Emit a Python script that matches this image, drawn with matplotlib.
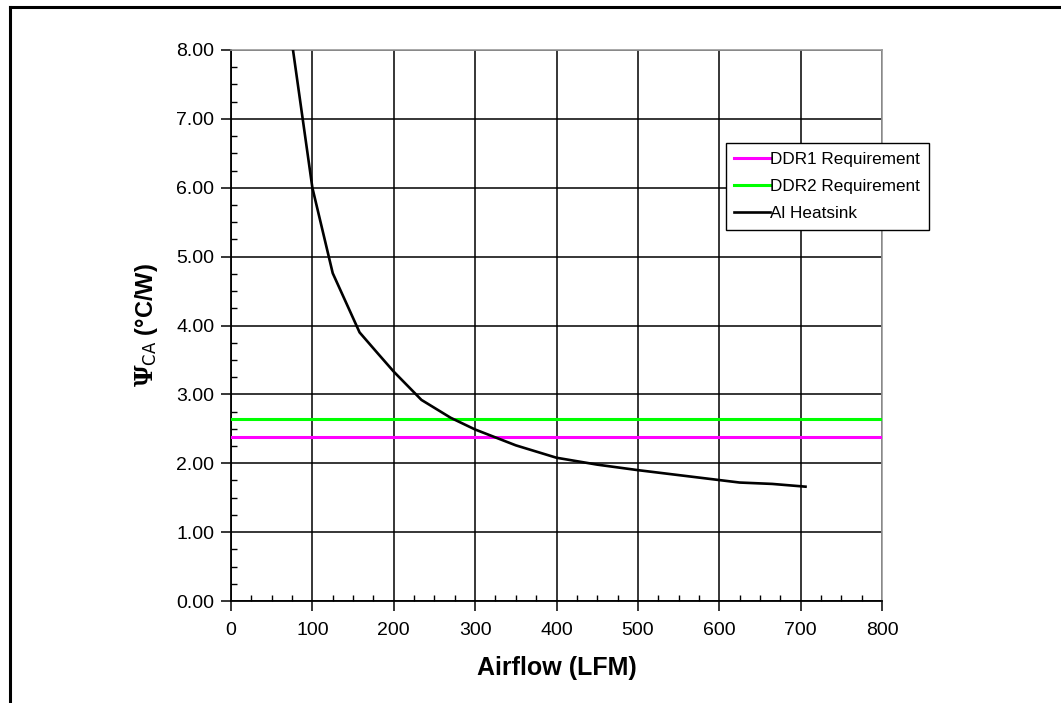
import matplotlib
matplotlib.use('Agg')
import matplotlib.pyplot as plt
from matplotlib.lines import Line2D
from matplotlib.ticker import MultipleLocator, FormatStrFormatter

plt.rcParams['font.family'] = ['Liberation Sans', 'DejaVu Sans']
plt.rcParams['mathtext.fontset'] = 'dejavuserif'

# data
airflow = [75, 100, 125, 158, 180, 200, 234, 270, 300, 350, 400, 450, 500, 625, 665, 706]
psi_ca = [8.1, 6.0, 4.76, 3.9, 3.6, 3.33, 2.92, 2.66, 2.49, 2.26, 2.08, 1.98, 1.90, 1.72, 1.70, 1.66]
ddr1_req = 2.385
ddr2_req = 2.64
x_range = [0, 800]

fig = plt.figure(figsize=(10.61, 7.03), dpi=100)
ax = fig.add_axes([231/1061, 1-601/703, 651/1061, 551/703])

ax.plot(x_range, [ddr1_req, ddr1_req], color='#ff00ff', lw=2.2, label='DDR1 Requirement', zorder=3)
ax.plot(x_range, [ddr2_req, ddr2_req], color='#00ff00', lw=2.2, label='DDR2 Requirement', zorder=3)
ax.plot(airflow, psi_ca, color='black', lw=1.9, label='Al Heatsink', zorder=4)

ax.set_xlim(0, 800)
ax.set_ylim(0, 8)
ax.xaxis.set_major_locator(MultipleLocator(100))
ax.xaxis.set_minor_locator(MultipleLocator(25))
ax.yaxis.set_major_locator(MultipleLocator(1))
ax.yaxis.set_minor_locator(MultipleLocator(0.25))
ax.yaxis.set_major_formatter(FormatStrFormatter('%.2f'))

ax.grid(True, which='major', color='black', lw=1.1)
ax.tick_params(which='major', direction='out', length=7, width=1.1, labelsize=14, pad=5, color='black')
ax.tick_params(which='minor', direction='in', length=4, width=1.0)
ax.tick_params(axis='x', which='major', pad=8)

for s in ['left', 'bottom']:
    ax.spines[s].set_color('black')
    ax.spines[s].set_linewidth(1.3)
for s in ['top', 'right']:
    ax.spines[s].set_color('#999999')
    ax.spines[s].set_linewidth(1.2)

ax.set_xlabel('Airflow (LFM)', fontsize=18, fontweight='bold')
ax.xaxis.set_label_coords(0.5, -0.099)
ax.set_ylabel(r'$\mathbf{\Psi}_{\mathsf{CA}}$ (°C/W)', fontsize=17, fontweight='bold')
ax.yaxis.set_label_coords(-0.109, 0.5)

leg = ax.legend(loc='upper left', bbox_to_anchor=(0.760, 0.831), borderaxespad=0,
                fontsize=12.3, frameon=True, fancybox=False, edgecolor='black',
                handlelength=2.1, handletextpad=0.0, labelspacing=0.72, borderpad=0.5)
leg.get_frame().set_linewidth(1.0)
leg.get_frame().set_alpha(1)

# page frame
fig.add_artist(Line2D([10/1061, 10/1061], [0, 1-7/703], transform=fig.transFigure, color='black', lw=2.2))
fig.add_artist(Line2D([10/1061, 1], [1-7/703, 1-7/703], transform=fig.transFigure, color='black', lw=2.2))

fig.savefig('out.png', dpi=100)
